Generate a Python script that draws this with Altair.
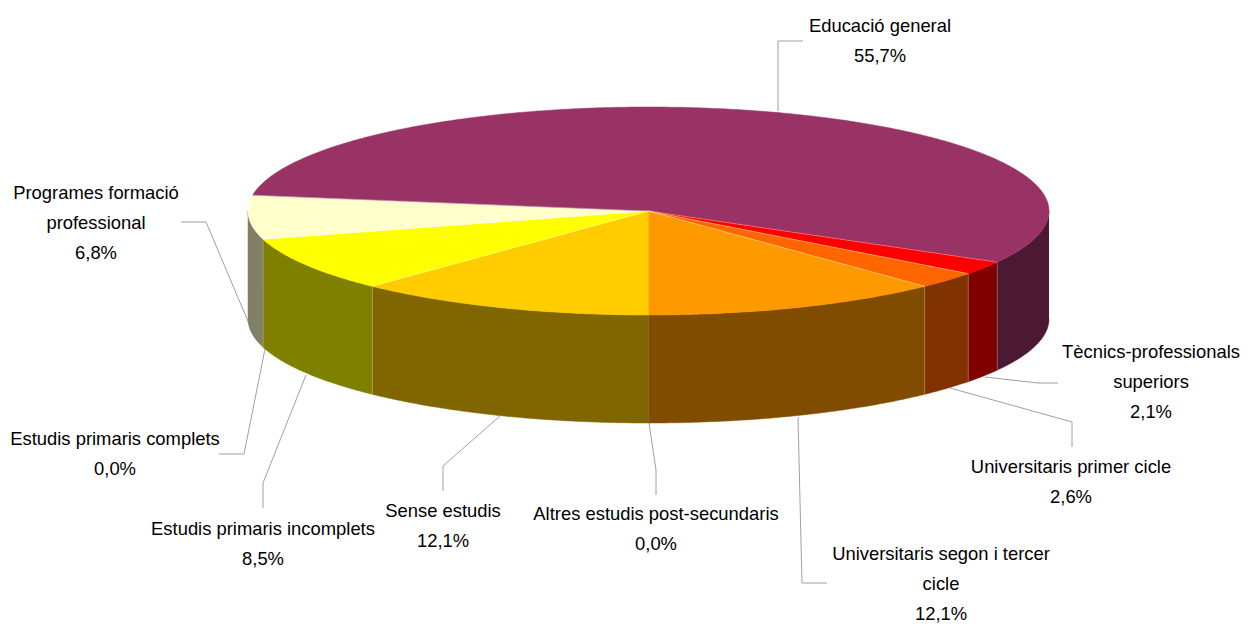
import math
import altair as alt
import pandas as pd

# Values, clockwise from the bottom of the pie
categories = ["Sense estudis", "Estudis primaris incomplets", "Estudis primaris complets",
              "Programes formació professional", "Educació general",
              "Tècnics-professionals superiors", "Universitaris primer cicle",
              "Universitaris segon i tercer cicle", "Altres estudis post-secundaris"]
shares = [12.1, 8.5, 0.0, 6.8, 55.7, 2.1, 2.6, 12.1, 0.0]
top_colors = ["#FFCC00", "#FFFF00", "#FFFFFF", "#FFFFCC", "#993366", "#FF0000", "#FF6600", "#FF9900", "#FFFFFF"]
side_colors = ["#806600", "#808000", "#808080", "#808066", "#4C1933", "#800000", "#803300", "#804D00", "#808080"]

label_lines = [["Sense estudis", "12,1%"],
               ["Estudis primaris incomplets", "8,5%"],
               ["Estudis primaris complets", "0,0%"],
               ["Programes formació", "professional", "6,8%"],
               ["Educació general", "55,7%"],
               ["Tècnics-professionals", "superiors", "2,1%"],
               ["Universitaris primer cicle", "2,6%"],
               ["Universitaris segon i tercer", "cicle", "12,1%"],
               ["Altres estudis post-secundaris", "0,0%"]]

# Layout, in page pixels
label_anchor = [(443, 511), (263, 529), (115, 439), (96, 193), (880, 26),
                (1151, 352), (1071, 467), (941, 554), (656, 514)]
leaders = [[(443, 491), (443, 466), (500, 416)],
           [(263, 508), (263, 483), (306, 375)],
           [(219, 454), (244, 454), (265, 349)],
           [(181, 222), (206, 222), (250, 326)],
           [(803, 41), (778, 41), (778, 111)],
           [(1058, 383), (1038, 383), (985, 377)],
           [(1072, 447), (1072, 422), (950, 388)],
           [(827, 583), (802, 583), (798, 417)],
           [(656, 495), (656, 470), (649, 423)]]
CX, CY, RX, RY, DEPTH = 648.5, 211.0, 400.5, 104.0, 108.0
LEADER_COLOR = "#a0a0a0"
WIDTH, HEIGHT = 1234, 616


def pt(deg, drop=0.0):
    a = math.radians(deg)
    return CX + RX * math.sin(a), CY - RY * math.cos(a) + drop


def arc(a0, a1):
    n = max(2, int(abs(a1 - a0) * 2) + 1)
    return [a0 + (a1 - a0) * j / (n - 1) for j in range(n)]


polys, seams = [], []
angle = 180.0
spans = []
total = sum(shares)  # the rounded labels add up to 99.9
for s in shares:
    sweep = s / total * 360.0
    spans.append((angle, angle + sweep))
    angle += sweep


def add_poly(name, color, points):
    for i, (x, y) in enumerate(points):
        polys.append({"poly": name, "color": color, "i": i, "x": x, "y": y})


def add_seam(name, color, p, q):
    seams.append({"seam": name, "color": color, "i": 0, "x": p[0], "y": p[1]})
    seams.append({"seam": name, "color": color, "i": 1, "x": q[0], "y": q[1]})


# Side walls: only the part of each slice on the near half of the rim
for k, (a0, a1) in enumerate(spans):
    if shares[k] == 0:
        continue
    for base in (0, 360):
        lo, hi = max(a0, 90 + base), min(a1, 270 + base)
        if hi > lo:
            ring = arc(lo, hi)
            add_poly(f"side{k}-{base}", side_colors[k],
                     [pt(a) for a in ring] + [pt(a, DEPTH) for a in reversed(ring)])
            if 90 < (hi % 360) < 270 and abs((hi % 360) - 180) > 1:
                add_seam(f"wall{k}-{base}", "#d8d0c0", pt(hi), pt(hi, DEPTH))

# Top face
for k, (a0, a1) in enumerate(spans):
    if shares[k] == 0:
        continue
    add_poly(f"top{k}", top_colors[k], [(CX, CY)] + [pt(a) for a in arc(a0, a1)])
    if k > 0:
        add_seam(f"edge{k}", "#ffffff", (CX, CY), pt(a0))

poly_df = pd.DataFrame(polys)
seam_df = pd.DataFrame(seams)

texts = []
for lines, (ax, ay) in zip(label_lines, label_anchor):
    for j, t in enumerate(lines):
        texts.append({"text": t, "x": ax, "y": ay + j * 30})
text_df = pd.DataFrame(texts)

lead_rows = []
for k, path in enumerate(leaders):
    for i, (x, y) in enumerate(path):
        lead_rows.append({"lead": k, "i": i, "x": x, "y": y})
lead_df = pd.DataFrame(lead_rows)

X = alt.X("x:Q", axis=None, scale=alt.Scale(domain=[8, 8 + WIDTH]))
Y = alt.Y("y:Q", axis=None, scale=alt.Scale(domain=[8, 8 + HEIGHT], reverse=True))

leader_layer = alt.Chart(lead_df).mark_line(color=LEADER_COLOR, strokeWidth=1).encode(
    x=X, y=Y, detail="lead:N", order="i:Q")
poly_layer = alt.Chart(poly_df).mark_line(filled=True, strokeWidth=0.5).encode(
    x=X, y=Y, detail="poly:N", order="i:Q",
    color=alt.Color("color:N", scale=None, legend=None),
    stroke=alt.Stroke("color:N", scale=None, legend=None))
seam_layer = alt.Chart(seam_df).mark_line(strokeWidth=1, opacity=0.3).encode(
    x=X, y=Y, detail="seam:N", order="i:Q",
    color=alt.Color("color:N", scale=None, legend=None))
text_layer = alt.Chart(text_df).mark_text(
    font="Liberation Sans", fontSize=18.4, color="#000000", baseline="middle", align="center"
).encode(x=X, y=Y, text="text:N")

chart = alt.layer(leader_layer, poly_layer, seam_layer, text_layer).properties(
    width=WIDTH, height=HEIGHT, padding=0, background="#ffffff",
    autosize=alt.AutoSizeParams(type="none")
).configure_view(stroke=None)

chart.save("out.html", embed_options={"renderer": "svg", "actions": False})
